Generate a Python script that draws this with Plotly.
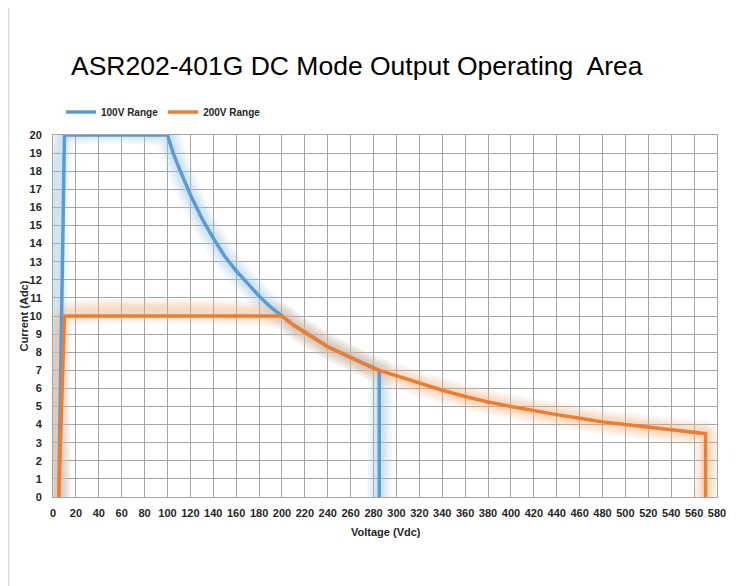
import plotly.graph_objects as go

# 100V range (voltage Vdc, current Adc)
v100 = [5, 10, 100, 105, 110, 115, 120, 130, 140, 150, 160, 170, 180, 190, 200, 210, 220, 230, 240, 250, 260, 270, 280, 285, 285]
i100 = [0, 20, 20, 19.0, 18.2, 17.4, 16.7, 15.4, 14.3, 13.3, 12.5, 11.8, 11.1, 10.5, 10.0, 9.5, 9.1, 8.7, 8.3, 8.0, 7.7, 7.4, 7.1, 7.0, 0]

# 200V range
v200 = [5, 10, 200, 210, 220, 230, 240, 250, 260, 270, 280, 290, 300, 320, 340, 360, 380, 400, 420, 440, 460, 480, 500, 520, 540, 560, 570, 570]
i200 = [0, 10, 10, 9.5, 9.1, 8.7, 8.3, 8.0, 7.7, 7.4, 7.1, 6.9, 6.7, 6.25, 5.9, 5.55, 5.25, 5.0, 4.75, 4.55, 4.35, 4.15, 4.0, 3.85, 3.7, 3.55, 3.5, 0]

series_names = ["100V Range", "200V Range"]
blue = "#5B9BD5"
orange = "#ED7D31"

x_ticks = list(range(0, 581, 20))
y_ticks = list(range(0, 21, 1))

fig = go.Figure()

# soft glow layers
for v, i, col in [(v100, i100, "rgba(156,195,229,0.14)"), (v200, i200, "rgba(244,177,131,0.14)")]:
    for w in (24, 18, 13, 9):
        fig.add_trace(go.Scatter(x=v, y=i, mode="lines", showlegend=False, hoverinfo="skip",
                                 line=dict(color=col, width=w, shape="spline", smoothing=0.3)))

fig.add_trace(go.Scatter(x=v100, y=i100, mode="lines", name=series_names[0],
                         line=dict(color=blue, width=3.5)))
fig.add_trace(go.Scatter(x=v200, y=i200, mode="lines", name=series_names[1],
                         line=dict(color=orange, width=3.5)))

axis_font = dict(family="Liberation Sans", size=11, color="#262626", weight="bold")

# ref pixel -> paper coords (plot area 53..717 x, 135..497 y in page px)
def px(x):
    return (x - 53) / 664

def py(y):
    return (497 - y) / 361

fig.update_layout(
    width=738, height=578,
    margin=dict(l=45, r=29, t=127, b=89),
    paper_bgcolor="white", plot_bgcolor="white",
    showlegend=True,
    legend=dict(orientation="h", x=px(61), y=py(113), xanchor="left", yanchor="middle",
                itemwidth=30, font=dict(family="Liberation Sans", size=10, color="#262626", weight="bold"),
                bgcolor="rgba(0,0,0,0)"),
    xaxis=dict(range=[0, 580], tickvals=x_ticks, showgrid=True, gridcolor="#A6A6A6", gridwidth=1,
               showline=True, linecolor="#A6A6A6", linewidth=1, mirror=True, zeroline=False,
               tickfont=axis_font, ticklabelstandoff=6),
    yaxis=dict(range=[0, 20], tickvals=y_ticks, showgrid=True, gridcolor="#A6A6A6", gridwidth=1,
               showline=True, linecolor="#A6A6A6", linewidth=1, mirror=True, zeroline=False,
               tickfont=axis_font, ticklabelstandoff=8),
    annotations=[
        dict(text="ASR202-401G DC Mode Output Operating  Area", xref="paper", yref="paper",
             x=px(69), y=py(67), xanchor="left", yanchor="middle",
             showarrow=False, font=dict(family="Liberation Sans", size=26.5, color="#000000")),
        dict(text="Voltage (Vdc)", xref="paper", yref="paper", x=px(386), y=py(532),
             xanchor="center", yanchor="middle", showarrow=False, font=axis_font),
        dict(text="Current (Adc)", xref="paper", yref="paper", x=px(24), y=py(317),
             xanchor="center", yanchor="middle", textangle=-90, showarrow=False, font=axis_font),
    ],
    shapes=[
        dict(type="line", xref="paper", yref="paper", x0=px(8.5), x1=px(760),
             y0=py(8.5), y1=py(8.5), line=dict(color="#D9D9D9", width=1.5)),
        dict(type="line", xref="paper", yref="paper", x0=px(8.5), x1=px(8.5),
             y0=py(8.5), y1=py(600), line=dict(color="#D9D9D9", width=1.5)),
    ],
)

fig.write_html("out.html")
